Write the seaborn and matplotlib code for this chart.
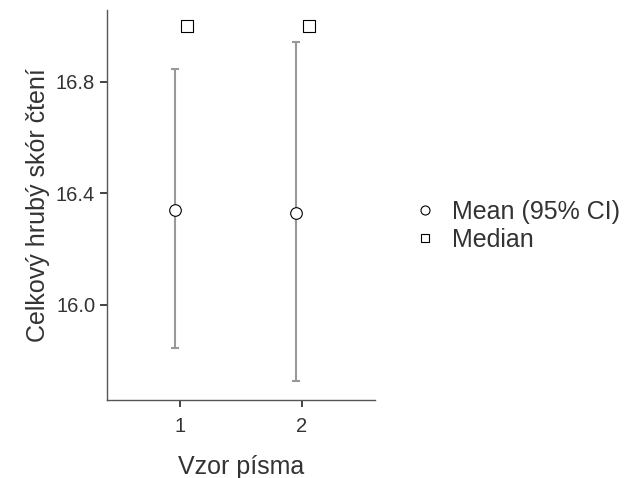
import numpy as np
import pandas as pd
import matplotlib
matplotlib.use("Agg")
import matplotlib.pyplot as plt
import seaborn as sns
from matplotlib.lines import Line2D

# values
groups = [1, 2]
means = [16.342, 16.331]
ci_low = [15.845, 15.727]
ci_high = [16.846, 16.942]
medians = [17.0, 17.0]

df = pd.DataFrame({"group": groups, "mean": means, "low": ci_low,
                   "high": ci_high, "median": medians})

sns.set_style("ticks")
plt.rcParams['font.family'] = ['Liberation Sans', 'DejaVu Sans']

fig = plt.figure(figsize=(6.35, 4.78), dpi=100)
fig.patch.set_facecolor("white")
ax = fig.add_axes([107 / 635, 78 / 478, 268 / 635, 390 / 478])

mean_x = df["group"] - 0.045
med_x = df["group"] + 0.058

ax.errorbar(mean_x, df["mean"],
            yerr=[df["mean"] - df["low"], df["high"] - df["mean"]],
            fmt="none", ecolor="#999999", elinewidth=1.5, capsize=3, capthick=1.5,
            zorder=1)
sns.scatterplot(x=mean_x, y=df["mean"], ax=ax, marker="o", s=70,
                facecolor="white", edgecolor="black", linewidth=0.8, zorder=3)
sns.scatterplot(x=med_x, y=df["median"], ax=ax, marker="s", s=70,
                facecolor="white", edgecolor="black", linewidth=0.8, zorder=3)

ax.set_xlim(0.40, 2.60)
ax.set_ylim(15.659, 17.058)
ax.set_xticks(groups)
ax.set_xticklabels([str(g) for g in groups])
ax.set_yticks([16.0, 16.4, 16.8])
ax.set_yticklabels(["16.0", "16.4", "16.8"])
ax.tick_params(axis="both", labelsize=14.5, length=5, width=1.2, color="#222222",
               labelcolor="#333333")
ax.tick_params(axis="x", pad=7)
for side in ["top", "right"]:
    ax.spines[side].set_visible(False)
for side in ["left", "bottom"]:
    ax.spines[side].set_color("#555555")
    ax.spines[side].set_linewidth(1.0)

ax.set_xlabel("Vzor písma", fontsize=18, color="#333333", labelpad=14)
ax.set_ylabel("Celkový hrubý skór čtení", fontsize=18, color="#333333", labelpad=4)

handles = [
    Line2D([], [], marker="o", linestyle="none", markersize=6.5,
           markerfacecolor="white", markeredgecolor="black", markeredgewidth=0.8),
    Line2D([], [], marker="s", linestyle="none", markersize=6,
           markerfacecolor="white", markeredgecolor="black", markeredgewidth=0.8),
]
fig.legend(handles, ["Mean (95% CI)", "Median"], loc="center left",
           bbox_to_anchor=(390 / 635, 1 - 226 / 478), frameon=False,
           fontsize=18, handlelength=1.0, handletextpad=0.6, labelspacing=0.15,
           labelcolor="#333333")

fig.savefig("out.png", dpi=100, facecolor="white")
